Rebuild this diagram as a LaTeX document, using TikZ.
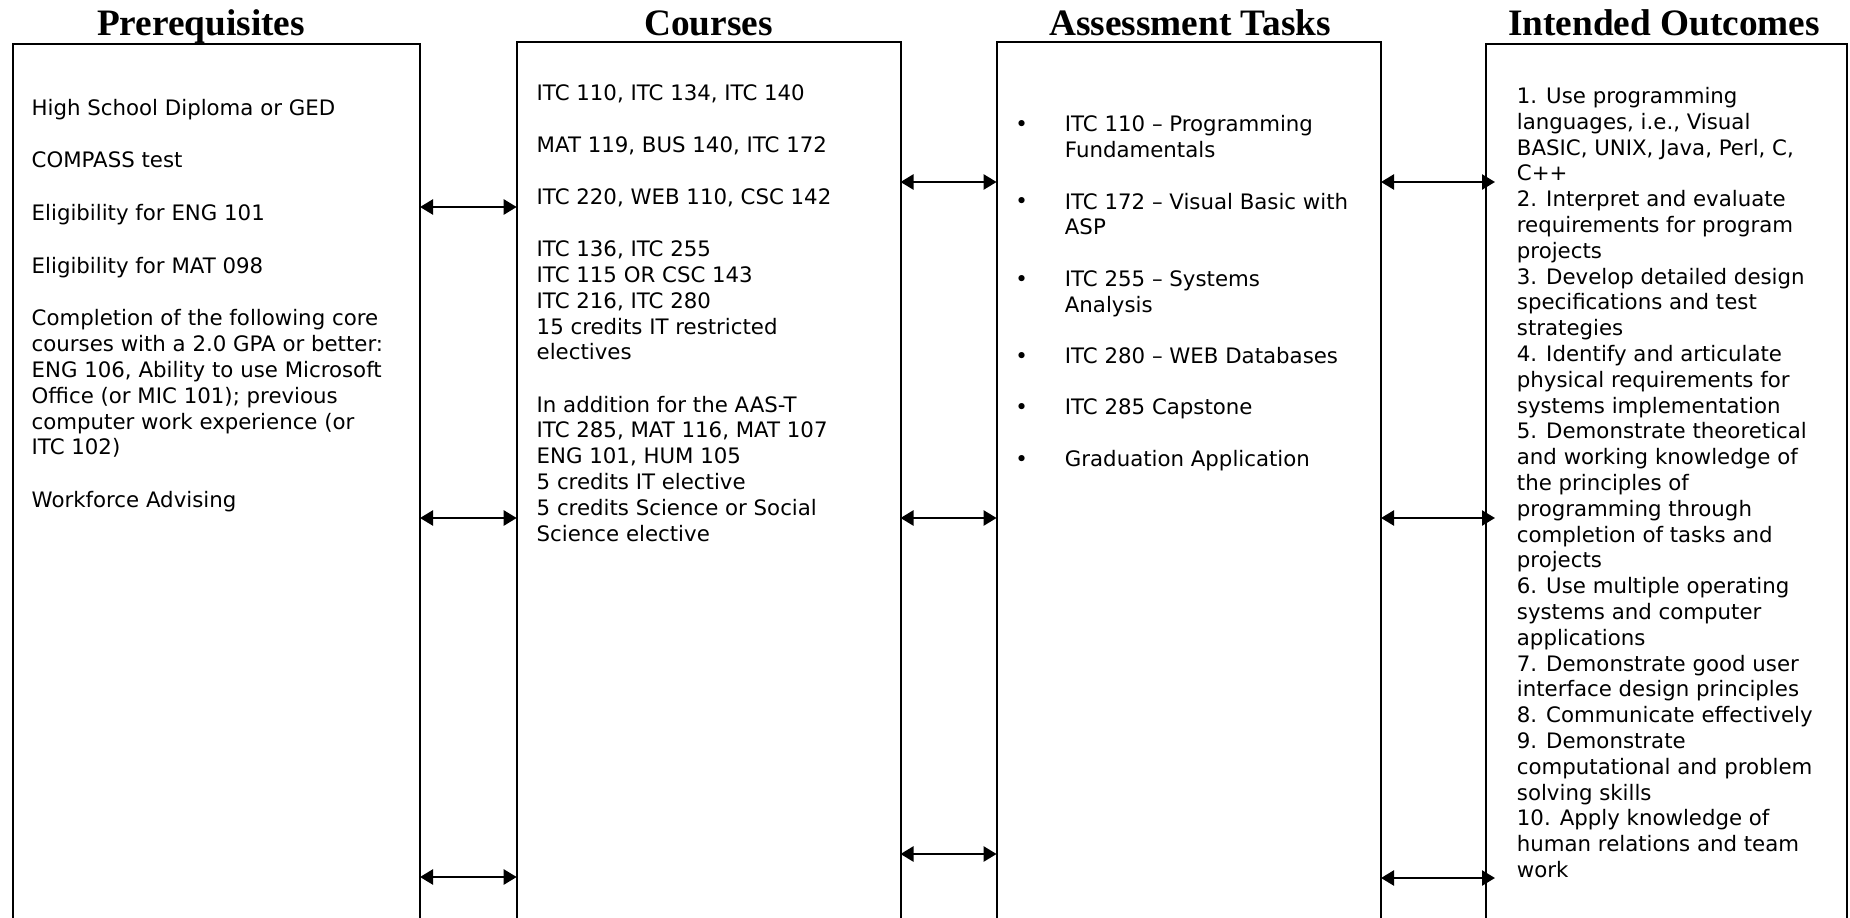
\documentclass[tikz,border=0pt]{standalone}
\usepackage{fontspec}
\setmainfont{DejaVu Sans}
\newfontfamily\titlefont{Liberation Serif}
\usetikzlibrary{arrows.meta}
\begin{document}
\begin{tikzpicture}[x=1pt,y=-1pt,
  colbox/.style={draw, line width=2pt, rectangle, inner sep=0pt, outer sep=0pt, anchor=north west},
  title/.style={font=\titlefont\bfseries\fontsize{37.3}{40}\selectfont, anchor=base, inner sep=0pt},
  body/.style={font=\fontsize{21.3}{25.8}\selectfont, align=left, anchor=north west, inner sep=0pt},
  bul/.style={font=\fontsize{21.3}{25.8}\selectfont, anchor=base, inner sep=0pt},
  link/.style={line width=2.5pt, {Triangle[length=13pt,width=15pt]}-{Triangle[length=13pt,width=15pt]}}
]
\useasboundingbox (0,0) rectangle (1850,918);
\clip (0,0) rectangle (1850,918);

% titles
\node[title] (tpre) at (201,35) {Prerequisites};
\node[title] (tcrs) at (708.6,35) {Courses};
\node[title] (tass) at (1190,35) {Assessment Tasks};
\node[title] (tout) at (1664,35) {Intended Outcomes};

% boxes
\node[colbox, minimum width=407.4pt, minimum height=896.5pt] (pre) at (12.6,43.5) {};
\node[colbox, minimum width=383.8pt, minimum height=898.3pt] (crs) at (516.7,41.7) {};
\node[colbox, minimum width=384.4pt, minimum height=898.3pt] (ass) at (996.6,41.7) {};
\node[colbox, minimum width=361pt, minimum height=895.7pt] (out) at (1486,44.3) {};

% prerequisites text
\node[body] (pretext) at (31.5,96.9) {\strut High School Diploma or GED\\[26.9pt]
COMPASS test\\[26.9pt]
Eligibility for ENG 101\\[26.9pt]
Eligibility for MAT 098\\[26.9pt]
Completion of the following core\\
courses with a 2.0 GPA or better:\\
ENG 106, Ability to use Microsoft\\
Office (or MIC 101); previous\\
computer work experience (or\\
ITC 102)\\[26.9pt]
Workforce Advising};

% courses text
\node[body] (crstext) at (536.5,81.9) {\strut ITC 110, ITC 134, ITC 140\\[26.4pt]
MAT 119, BUS 140, ITC 172\\[26.4pt]
ITC 220, WEB 110, CSC 142\\[26.4pt]
ITC 136, ITC 255\\
ITC 115 OR CSC 143\\
ITC 216, ITC 280\\
15 credits IT restricted\\
electives\\[26.4pt]
In addition for the AAS-T\\
ITC 285, MAT 116, MAT 107\\
ENG 101, HUM 105\\
5 credits IT elective\\
5 credits Science or Social\\
Science elective};

% assessment text
\node[body] (asstext) at (1064.7,113.6) {\strut ITC 110 – Programming\\
Fundamentals\\[25.6pt]
ITC 172 – Visual Basic with\\
ASP\\[25.6pt]
ITC 255 – Systems\\
Analysis\\[25.6pt]
ITC 280 – WEB Databases\\[25.6pt]
ITC 285 Capstone\\[25.6pt]
Graduation Application};
\node[bul] (b1) at (1021.7,131.7) {•};
\node[bul] (b2) at (1021.7,208.9) {•};
\node[bul] (b3) at (1021.7,286.1) {•};
\node[bul] (b4) at (1021.7,363.3) {•};
\node[bul] (b5) at (1021.7,414.7) {•};
\node[bul] (b6) at (1021.7,466.1) {•};

% outcomes text
\node[body] (outtext) at (1516.7,85.2) {\strut 1. Use programming\\
languages, i.e., Visual\\
BASIC, UNIX, Java, Perl, C,\\
C++\\
2. Interpret and evaluate\\
requirements for program\\
projects\\
3. Develop detailed design\\
specifications and test\\
strategies\\
4. Identify and articulate\\
physical requirements for\\
systems implementation\\
5. Demonstrate theoretical\\
and working knowledge of\\
the principles of\\
programming through\\
completion of tasks and\\
projects\\
6. Use multiple operating\\
systems and computer\\
applications\\
7. Demonstrate good user\\
interface design principles\\
8. Communicate effectively\\
9. Demonstrate\\
computational and problem\\
solving skills\\
10. Apply knowledge of\\
human relations and team\\
work};

% connectors
\draw[link] (pre.east |- 0,207) -- (crs.west |- 0,207);
\draw[link] (pre.east |- 0,518) -- (crs.west |- 0,518);
\draw[link] (pre.east |- 0,877) -- (crs.west |- 0,877);
\draw[link] (crs.east |- 0,182) -- (ass.west |- 0,182);
\draw[link] (crs.east |- 0,518) -- (ass.west |- 0,518);
\draw[link] (crs.east |- 0,854) -- (ass.west |- 0,854);
\draw[link, shorten >=-9pt] (ass.east |- 0,182) -- (out.west |- 0,182);
\draw[link, shorten >=-9pt] (ass.east |- 0,518) -- (out.west |- 0,518);
\draw[link, shorten >=-9pt] (ass.east |- 0,878) -- (out.west |- 0,878);
\end{tikzpicture}
\end{document}
